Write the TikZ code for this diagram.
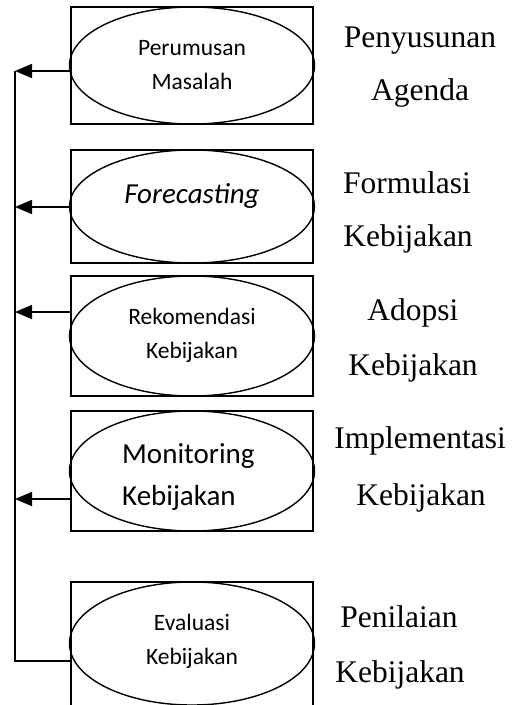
\documentclass[tikz,border=0pt]{standalone}
\usepackage{fontspec}
\setmainfont{Liberation Serif}
\newfontfamily\inner{Carlito}
\usetikzlibrary{arrows.meta,shapes.geometric}
\begin{document}
\begin{tikzpicture}[x=1pt,y=-1pt,
  boxst/.style={draw,line width=1.8pt,rectangle,minimum width=242pt,inner sep=0pt},
  ellst/.style={draw,line width=1.4pt,ellipse,minimum width=245pt,inner sep=0pt},
  smalltxt/.style={anchor=base,inner sep=0pt,font=\inner\fontsize{23.5}{28}\selectfont},
  bigtxt/.style={anchor=base,inner sep=0pt,font=\inner\fontsize{29}{34}\selectfont},
  sidetxt/.style={anchor=base,inner sep=0pt,font=\fontsize{31.5}{38}\selectfont},
  arr/.style={line width=1.8pt,-{Triangle[length=17pt,width=14pt]}},
  spine/.style={line width=1.5pt}]
\useasboundingbox (0,0) rectangle (512,705);
% boxes
\node[boxst,minimum height=117pt] (b1) at (192,65.5) {};
\node[boxst,minimum height=113pt] (b2) at (192,206.5) {};
\node[boxst,minimum height=120pt] (b3) at (192,336) {};
\node[boxst,minimum height=120pt] (b4) at (192,471) {};
\node[boxst,minimum height=124pt] (b5) at (192,644) {};
% ellipses
\node[ellst,minimum height=117pt] (e1) at (192,65.5) {};
\node[ellst,minimum height=113pt] (e2) at (192,206.5) {};
\node[ellst,minimum height=120pt] (e3) at (192,336) {};
\node[ellst,minimum height=120pt] (e4) at (192,471) {};
\node[ellst,minimum height=123pt] (e5) at (192,643.5) {};
% ellipse texts
\node[smalltxt] (p1a) at (192,55) {Perumusan};
\node[smalltxt] (p1b) at (192,89) {Masalah};
\node[bigtxt] (p2) at (192,203) {\itshape Forecasting};
\node[smalltxt] (p3a) at (192,324) {Rekomendasi};
\node[smalltxt] (p3b) at (192,358) {Kebijakan};
\node[bigtxt,anchor=base west] (p4a) at (122,463) {Monitoring};
\node[bigtxt,anchor=base west] (p4b) at (122,505) {Kebijakan};
\node[smalltxt] (p5a) at (192,630) {Evaluasi};
\node[smalltxt] (p5b) at (192,664) {Kebijakan};
% side texts
\node[sidetxt] (t1a) at (420,47) {Penyusunan};
\node[sidetxt] (t1b) at (420,100) {Agenda};
\node[sidetxt] (t2a) at (407,193) {Formulasi};
\node[sidetxt] (t2b) at (408,246) {Kebijakan};
\node[sidetxt] (t3a) at (413,320) {Adopsi};
\node[sidetxt] (t3b) at (413,375) {Kebijakan};
\node[sidetxt] (t4a) at (420,448) {Implementasi};
\node[sidetxt] (t4b) at (421,505) {Kebijakan};
\node[sidetxt] (t5a) at (399,627) {Penilaian};
\node[sidetxt] (t5b) at (400,682) {Kebijakan};
% spine coordinates
\coordinate (s1) at (15,71);
\coordinate (s2) at (15,207);
\coordinate (s3) at (15,312);
\coordinate (s4) at (15,499);
\coordinate (s5) at (15,661);
\draw[spine] (s1) -- (s5) -- (b5.west |- s5);
\draw[arr] (b1.west |- s1) -- (s1);
\draw[arr] (b2.west |- s2) -- (s2);
\draw[arr] (b3.west |- s3) -- (s3);
\draw[arr] (b4.west |- s4) -- (s4);
\end{tikzpicture}
\end{document}
